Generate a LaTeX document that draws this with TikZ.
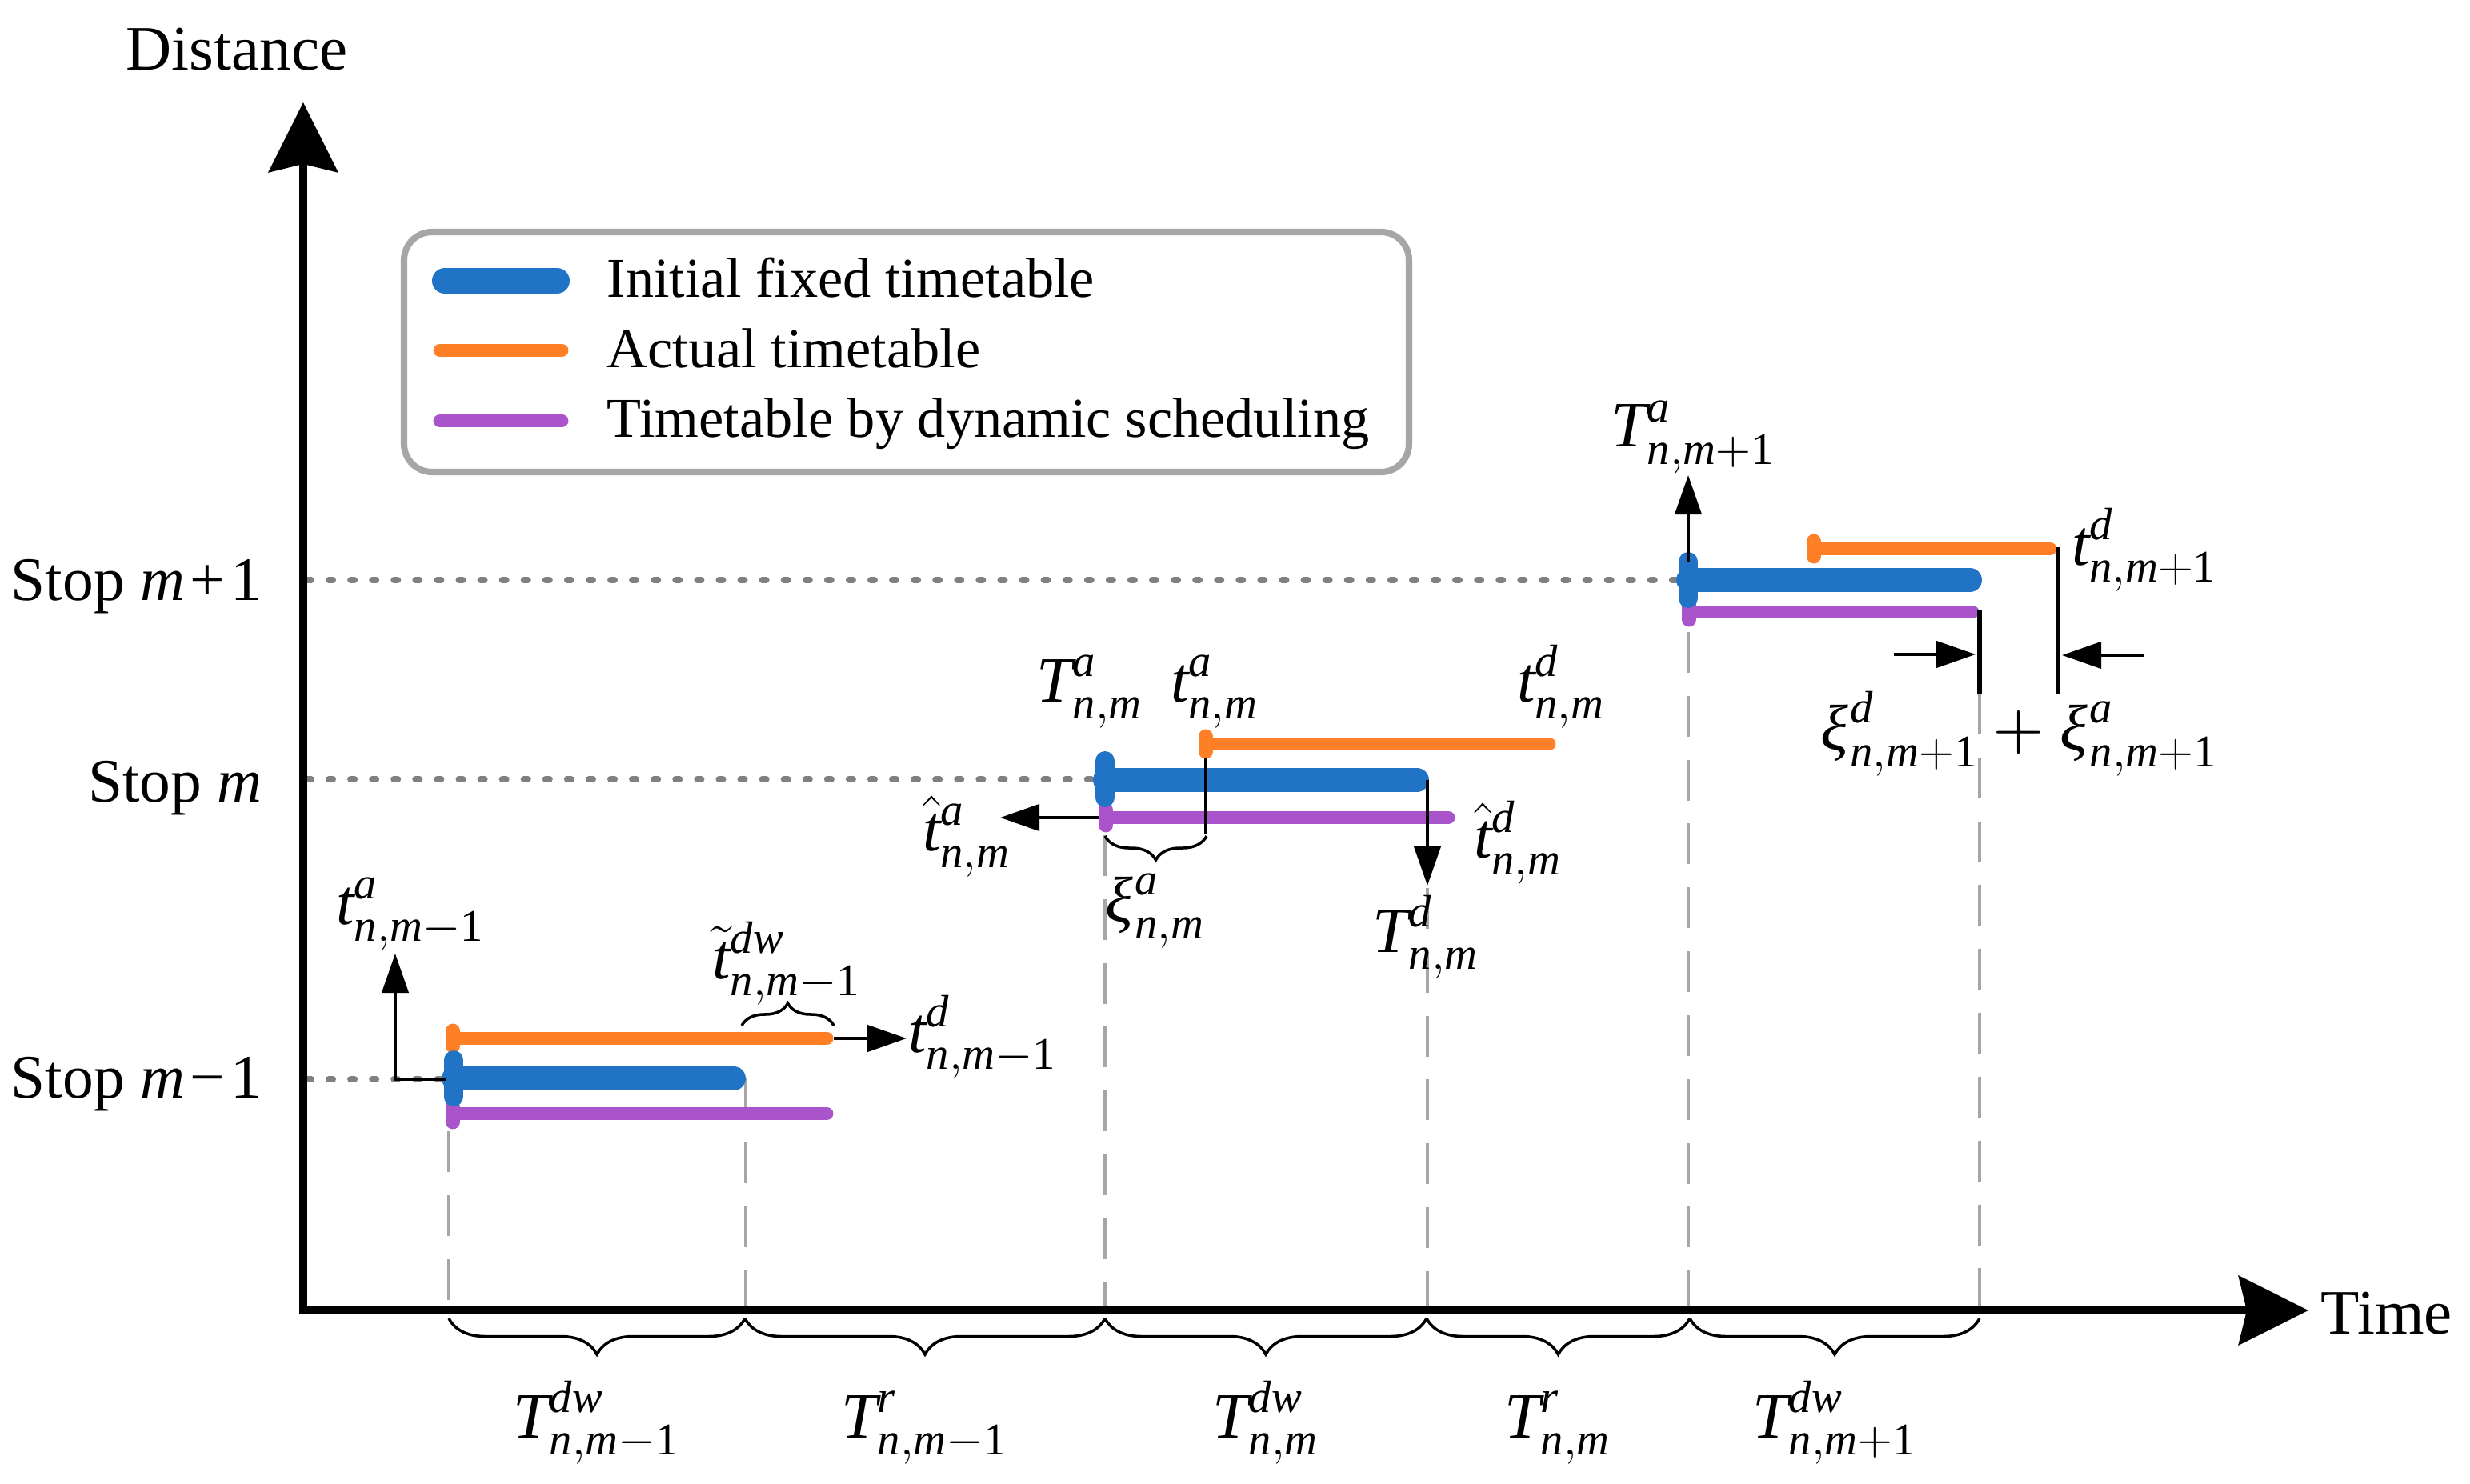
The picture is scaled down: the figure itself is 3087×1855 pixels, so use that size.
\documentclass[tikz,border=0pt]{standalone}
\usepackage{mathspec}
\setmainfont{Liberation Serif}
\setmathsfont(Digits,Latin,Greek){Liberation Serif}
\usetikzlibrary{arrows.meta,decorations.pathreplacing}
\definecolor{cblue}{RGB}{33,115,198}
\definecolor{corange}{RGB}{255,127,39}
\definecolor{cpurple}{RGB}{170,84,204}
\definecolor{cgrayb}{RGB}{166,166,166}
\definecolor{cdot}{RGB}{128,128,128}
\begin{document}
\begin{tikzpicture}[x=0.01cm,y=-0.01cm,
  lbl/.style={inner sep=0pt, anchor=base, font=\fontsize{23}{27}\selectfont},
  axislbl/.style={inner sep=0pt, font=\fontsize{22.5}{27}\selectfont},
  stoplbl/.style={inner sep=0pt, anchor=base east, font=\fontsize{22}{27}\selectfont},
  legtxt/.style={inner sep=0pt, anchor=base west, font=\fontsize{20}{24}\selectfont},
  axisline/.style={line width=2.8pt, line join=miter,
     {Stealth[length=0.87cm,width=0.86cm,inset=0.1cm]}-{Stealth[length=0.87cm,width=0.86cm,inset=0.1cm]}},
  stopline/.style={cdot, line width=2.3pt, line cap=round, dash pattern=on 1.4pt off 6.3pt},
  guide/.style={cgrayb, line width=1.3pt, dash pattern=on 14.5pt off 8.2pt},
  bbar/.style={cblue, line width=8.5pt, line cap=round},
  obar/.style={corange, line width=4.8pt, line cap=round},
  pbar/.style={cpurple, line width=4.8pt, line cap=round},
  bcap/.style={cblue, line width=6.8pt, line cap=round},
  ocap/.style={corange, line width=5.1pt, line cap=round},
  pcap/.style={cpurple, line width=5.1pt, line cap=round},
  ann/.style={line width=1.2pt, -{Triangle[length=0.49cm,width=0.33cm]}},
  tickline/.style={line width=1.6pt},
  brc/.style={line width=1pt, decorate},
]
\useasboundingbox (0,0) rectangle (3087,1855);

% ---------- axes ----------
\coordinate (O) at (379,1638);
\coordinate (ytip) at (379,128);
\coordinate (xtip) at (2885,1638);

% stop lines (dotted)
\coordinate (s1l) at (384,725);
\coordinate (s0l) at (384,974);
\coordinate (sml) at (384,1349);
\draw[stopline] (s1l) -- (2098,725);
\draw[stopline] (s0l) -- (1368,974);
\draw[stopline] (sml) -- (555,1349);

% vertical guides (dashed)
\draw[guide] (561,1414) -- (561,1634);
\draw[guide] (932,1348) -- (932,1634);
\draw[guide] (1381,1044) -- (1381,1634);
\draw[guide] (1784,1110) -- (1784,1634);
\draw[guide] (2110,790) -- (2110,1634);
\draw[guide] (2474,867) -- (2474,1634);

\draw[axisline] (ytip) -- (O) -- (xtip);

\node[axislbl, anchor=base] (dist) at (296,88) {Distance};
\node[axislbl, anchor=base west] (time) at (2900,1667) {Time};
\node[stoplbl] (s1) at (328,750) {Stop \textit{m}\kern2pt+\kern2pt1};
\node[stoplbl] (s0) at (328,1002) {Stop \textit{m}};
\node[stoplbl] (sm) at (328,1372) {Stop \textit{m}\kern2pt−\kern2pt1};

% ---------- legend ----------
\draw[cgrayb, line width=2.3pt, rounded corners=0.35cm] (505,290) rectangle (1761,590);
\draw[bbar, line width=9.1pt] (556,351) -- (696,351);
\draw[obar] (550,438) -- (702,438);
\draw[pbar] (550,526) -- (702,526);
\node[legtxt] (l1) at (758,372) {Initial fixed timetable};
\node[legtxt] (l2) at (758,460) {Actual timetable};
\node[legtxt] (l3) at (758,547) {Timetable by dynamic scheduling};

% ---------- stop m-1 ----------
\coordinate (om1s) at (566,1298); \coordinate (om1e) at (1033,1298);
\coordinate (bm1s) at (567,1348); \coordinate (bm1e) at (917,1348);
\coordinate (pm1s) at (566,1392); \coordinate (pm1e) at (1033,1392);
\draw[obar] (om1s) -- (om1e);
\draw[ocap] (566,1288.5) -- (566,1307.5);
\draw[bbar] (bm1s) -- (bm1e);
\draw[pbar] (pm1s) -- (pm1e);
\draw[pcap] (566,1383.5) -- (566,1402.5);
\draw[bcap] (567,1325) -- (567,1371);

% ---------- stop m ----------
\coordinate (oms) at (1507,930); \coordinate (ome) at (1936,930);
\coordinate (bms) at (1381,975); \coordinate (bme) at (1771,975);
\coordinate (pms) at (1382,1022); \coordinate (pme) at (1810,1022);
\draw[obar] (oms) -- (ome);
\draw[ocap] (1507,920.5) -- (1507,939.5);
\draw[bbar] (bms) -- (bme);
\draw[pbar] (pms) -- (pme);
\draw[pcap] (1382,1012.5) -- (1382,1031.5);
\draw[bcap] (1381,951) -- (1381,997);

% ---------- stop m+1 ----------
\coordinate (ops) at (2267,686); \coordinate (ope) at (2562,686);
\coordinate (bps) at (2110,725); \coordinate (bpe) at (2462,725);
\coordinate (pps) at (2111,765); \coordinate (ppe) at (2465,765);
\draw[obar] (ops) -- (ope);
\draw[ocap] (2267,676.5) -- (2267,695.5);
\draw[bbar] (bps) -- (bpe);
\draw[pbar] (pps) -- (ppe);
\draw[pcap] (2111,755.5) -- (2111,774.5);
\draw[bcap] (2110,702) -- (2110,748);

% ---------- annotations stop m-1 ----------
\coordinate (tam1tip) at (494,1192);
\draw[ann] (557,1349) -| (tam1tip);
\node[lbl] (tam1) at (513,1155) {$t^{a}_{n,m-1}$};
\draw[brc, decoration={brace, amplitude=0.28cm}] (927,1282) -- (1042,1282);
\node[lbl] (tdw) at (983,1223) {$\tilde{t}^{dw}_{n,m-1}$};
\coordinate (tdm1tip) at (1133,1298);
\draw[ann] (1042,1298) -- (tdm1tip);
\node[lbl] (tdm1) at (1228,1315) {$t^{d}_{n,m-1}$};

% ---------- annotations stop m ----------
\node[lbl] (Tam) at (1362,877) {$T^{a}_{n,m}$};
\node[lbl] (tam) at (1518,877) {$t^{a}_{n,m}$};
\node[lbl] (tdm) at (1951,877) {$t^{d}_{n,m}$};
\draw[line width=1.4pt] (1507,948) -- (1507,1042);
\coordinate (htamtip) at (1250,1022);
\draw[ann] (1374,1022) -- (htamtip);
\node[lbl] (htam) at (1208,1063) {$\hat{t}^{a}_{n,m}$};
\draw[brc, decoration={brace, mirror, amplitude=0.3cm}] (1381,1045) -- (1508,1045);
\node[lbl] (xiam) at (1443,1152) {$\xi^{a}_{n,m}$};
\coordinate (Tdmtip) at (1784,1107);
\draw[ann] (1784,975) -- (Tdmtip);
\node[lbl] (Tdm) at (1782,1190) {$T^{d}_{n,m}$};
\node[lbl] (htdm) at (1897,1072) {$\hat{t}^{d}_{n,m}$};

% ---------- annotations stop m+1 ----------
\coordinate (Taptip) at (2110,594);
\draw[ann] (2110,702) -- (Taptip);
\node[lbl] (Tap1) at (2116,559) {$T^{a}_{n,m+1}$};
\node[lbl] (tdp1) at (2680,706) {$t^{d}_{n,m+1}$};
\draw[tickline] (2474,762) -- (2474,867);
\draw[tickline] (2572,684) -- (2572,867);
\coordinate (ar1) at (2469,818);
\coordinate (ar2) at (2577,819);
\draw[ann] (2367,818) -- (ar1);
\draw[ann] (2679,819) -- (ar2);
\node[lbl] (xisum) at (2523,937) {$\xi^{d}_{n,m+1}+\xi^{a}_{n,m+1}$};

% ---------- bottom braces ----------
\foreach \a/\b in {561/931,931/1381,1381/1783,1783/2112,2112/2474}
  \draw[brc, decoration={brace, mirror, amplitude=0.45cm}] (\a,1648) -- (\b,1648);
\node[lbl] (b1) at (746,1797) {$T^{dw}_{n,m-1}$};
\node[lbl] (b2) at (1156,1797) {$T^{r}_{n,m-1}$};
\node[lbl] (b3) at (1582,1797) {$T^{dw}_{n,m}$};
\node[lbl] (b4) at (1947,1797) {$T^{r}_{n,m}$};
\node[lbl] (b5) at (2293,1797) {$T^{dw}_{n,m+1}$};
\end{tikzpicture}
\end{document}
